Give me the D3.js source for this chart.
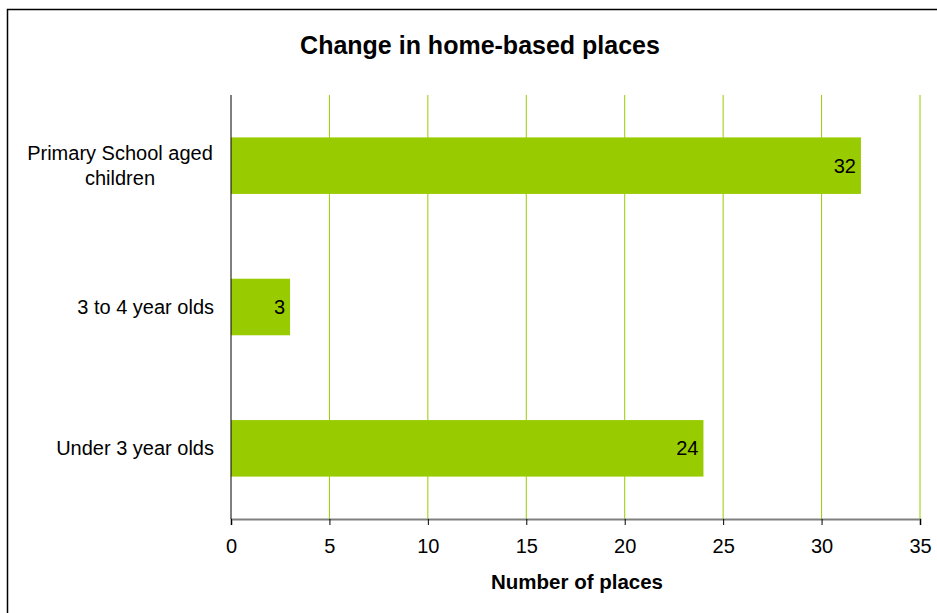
<!DOCTYPE html>
<html><head><meta charset="utf-8">
<script src="https://cdn.jsdelivr.net/npm/d3@7"></script>
<style>body{margin:0;background:#fff;}svg{display:block;font-family:"Liberation Sans",Arial,sans-serif;}</style>
</head><body>
<script>
const categories = ["Primary School aged children", "3 to 4 year olds", "Under 3 year olds"];
const categoryLines = [["Primary School aged", "children"], ["3 to 4 year olds"], ["Under 3 year olds"]];
const values = [32, 3, 24];
const xTicks = [0, 5, 10, 15, 20, 25, 30, 35];
const title = "Change in home-based places";
const xTitle = "Number of places";

(function () {
const W = 937, H = 613;
const FS = 20;
const svg = d3.select("body").append("svg").attr("width", W).attr("height", H);
svg.append("rect").attr("x", 7.5).attr("y", 9.5).attr("width", W).attr("height", H)
  .attr("fill", "#fff").attr("stroke", "#000").attr("stroke-width", 1.5);

const mL = 231, mR = 920, mT = 95, mB = 519;
const x = d3.scaleLinear().domain([0, 35]).range([mL, mR]);
const y = d3.scaleBand().domain(categories).range([mT, mB]).paddingInner(0.6).paddingOuter(0.3);

// gridlines
svg.append("g").selectAll("line").data(xTicks.slice(1)).join("line")
  .attr("x1", d => x(d)).attr("x2", d => x(d)).attr("y1", mT).attr("y2", mB)
  .attr("stroke", "#99CC00").attr("stroke-width", 1);

// bars
svg.append("g").selectAll("rect").data(values).join("rect")
  .attr("x", x(0)).attr("y", (d, i) => y(categories[i]))
  .attr("width", d => x(d) - x(0)).attr("height", y.bandwidth())
  .attr("fill", "#99CC00");

// value labels
svg.append("g").selectAll("text").data(values).join("text")
  .attr("x", d => x(d) - 5).attr("y", (d, i) => y(categories[i]) + y.bandwidth() / 2)
  .attr("dy", "0.35em").attr("text-anchor", "end").attr("font-size", FS).attr("fill", "#000")
  .text(d => d);

// x axis
const xAxis = d3.axisBottom(x).tickValues(xTicks).tickSize(6).tickPadding(14);
const gx = svg.append("g").attr("transform", `translate(0,${mB})`).call(xAxis);
gx.select(".domain").attr("stroke", "#808080").attr("stroke-width", 2);
gx.selectAll(".tick line").attr("stroke", "#000");
gx.selectAll(".tick text").attr("font-size", FS).attr("fill", "#000").attr("font-family", "Liberation Sans, Arial, sans-serif");

// y axis line
svg.append("line").attr("x1", mL).attr("x2", mL).attr("y1", mT).attr("y2", mB)
  .attr("stroke", "#000").attr("stroke-width", 1);

// category labels
const yl = svg.append("g");
categories.forEach((c, i) => {
  const lines = categoryLines[i];
  const cy = y(c) + y.bandwidth() / 2;
  const lh = 25;
  const t = yl.append("text").attr("font-size", FS).attr("fill", "#000")
    .attr("text-anchor", lines.length > 1 ? "middle" : "end");
  lines.forEach((ln, j) => {
    t.append("tspan").attr("x", lines.length > 1 ? 120 : 214)
      .attr("y", cy + (j - (lines.length - 1) / 2) * lh).attr("dy", "0.35em").text(ln);
  });
});

// title
svg.append("text").attr("x", 480).attr("y", 45).attr("dy", "0.35em").attr("text-anchor", "middle")
  .attr("font-size", 25).attr("font-weight", "bold").text(title);
svg.append("text").attr("x", 577).attr("y", 582).attr("dy", "0.35em").attr("text-anchor", "middle")
  .attr("font-size", 20.5).attr("font-weight", "bold").text(xTitle);
})();
</script>
</body></html>
